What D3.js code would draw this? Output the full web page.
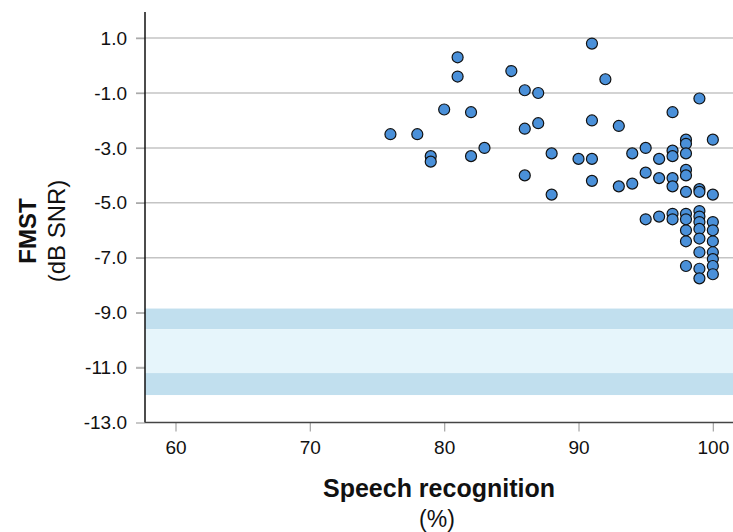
<!DOCTYPE html>
<html><head><meta charset="utf-8">
<script src="https://cdn.jsdelivr.net/npm/d3@7"></script>
<style>body{margin:0;background:#fff;}svg{display:block;}text{font-family:"Liberation Sans",Arial,Helvetica,sans-serif;}</style>
</head><body>
<svg id="c" width="733" height="532"></svg>
<script>
const speechRecognition = [76,78,79,79,80,81,81,82,82,83,85,86,86,86,87,87,88,88,
  90,91,91,91,91,92,93,93,94,94,95,95,95,96,96,96,
  97,97,97,97,97,97,97,
  98,98,98,98,98,98,98,98,98,98,98,
  99,99,99,99,99,99,99,99,99,99,99,
  100,100,100,100,100,100,100,100,100];
const fmst = [-2.5,-2.5,-3.3,-3.5,-1.6,0.3,-0.4,-1.7,-3.3,-3.0,-0.2,-0.9,-2.3,-4.0,-1.0,-2.1,-3.2,-4.7,
  -3.4,0.8,-2.0,-3.4,-4.2,-0.5,-2.2,-4.4,-3.2,-4.3,-3.0,-3.9,-5.6,-3.4,-4.1,-5.5,
  -1.7,-3.1,-3.3,-4.1,-4.4,-5.4,-5.6,
  -2.7,-2.85,-3.2,-3.8,-4.0,-4.6,-5.4,-5.6,-6.0,-6.4,-7.3,
  -1.2,-4.5,-4.6,-5.3,-5.5,-5.7,-5.95,-6.3,-6.8,-7.4,-7.75,
  -2.7,-4.7,-5.7,-6.0,-6.4,-6.8,-7.05,-7.3,-7.6];
const yTicks = [1,-1,-3,-5,-7,-9,-11,-13];
const xTicks = [60,70,80,90,100];
const bandLimits = [-8.85,-9.6,-11.2,-12.0];
const bandKinds = ["outer","inner","outer"];

const svg = d3.select("#c");
const mLeft=145, mRight=733, mTop=12, mBottom=422.5;
const x = d3.scaleLinear().domain([57.73,101.5]).range([mLeft,mRight]);
const y = d3.scaleLinear().domain([-13,1.95]).range([mBottom,mTop]);
const FONT = '"Liberation Sans",Arial,Helvetica,sans-serif';

// gridlines
svg.append("g").selectAll("line").data(yTicks.filter(d=>d>-13)).join("line")
  .attr("x1",mLeft-9).attr("x2",mRight).attr("y1",d=>y(d)).attr("y2",d=>y(d))
  .attr("stroke","#c4c4c4").attr("stroke-width",1.5);

// bands
const bands = bandKinds.map((k,i)=>({k,a:bandLimits[i],b:bandLimits[i+1]}));
svg.append("g").selectAll("rect").data(bands).join("rect")
  .attr("x",mLeft).attr("width",mRight-mLeft)
  .attr("y",d=>y(d.a)).attr("height",d=>y(d.b)-y(d.a))
  .attr("fill",d=>d.k==="outer"?"#c1dfee":"#e6f5fb");

// y axis
const ya = svg.append("g").attr("transform",`translate(${mLeft},0)`)
  .call(d3.axisLeft(y).tickValues(yTicks).tickFormat(d=>d.toFixed(1)).tickSize(9).tickPadding(9));
ya.attr("font-family",FONT).attr("font-size",19);
ya.select(".domain").remove();
ya.selectAll(".tick line").attr("stroke","#aaa").attr("stroke-width",1.3);
ya.selectAll("text").attr("fill","#111");
svg.append("line").attr("x1",mLeft).attr("x2",mLeft).attr("y1",mTop).attr("y2",mBottom)
  .attr("stroke","#111").attr("stroke-width",1.5);

// x axis
const xa = svg.append("g").attr("transform",`translate(0,${mBottom})`)
  .call(d3.axisBottom(x).tickValues(xTicks).tickSize(9).tickPadding(9.5));
xa.attr("font-family",FONT).attr("font-size",19);
xa.select(".domain").remove();
xa.selectAll(".tick line").attr("stroke","#aaa").attr("stroke-width",1.3);
xa.selectAll("text").attr("fill","#111");
svg.append("line").attr("x1",mLeft).attr("x2",mRight).attr("y1",mBottom).attr("y2",mBottom)
  .attr("stroke","#444").attr("stroke-width",1.5);

// points
svg.append("g").selectAll("circle").data(speechRecognition.map((v,i)=>[v,fmst[i]])).join("circle")
  .attr("cx",d=>x(d[0])).attr("cy",d=>y(d[1])).attr("r",5.5)
  .attr("fill","#4a90d9").attr("stroke","#111").attr("stroke-width",1.2);

// axis titles
svg.append("text").attr("x",439).attr("y",497).attr("text-anchor","middle")
  .attr("font-size",25).attr("font-weight","bold").attr("fill","#111").text("Speech recognition");
svg.append("text").attr("x",437).attr("y",527).attr("text-anchor","middle")
  .attr("font-size",23).attr("fill","#111").text("(%)");
const yt = svg.append("g").attr("transform","translate(0,231) rotate(-90)");
yt.append("text").attr("x",0).attr("y",36).attr("text-anchor","middle")
  .attr("font-size",24).attr("font-weight","bold").attr("fill","#111").text("FMST");
yt.append("text").attr("x",0).attr("y",65).attr("text-anchor","middle")
  .attr("font-size",24).attr("fill","#111").text("(dB SNR)");
</script>
</body></html>
